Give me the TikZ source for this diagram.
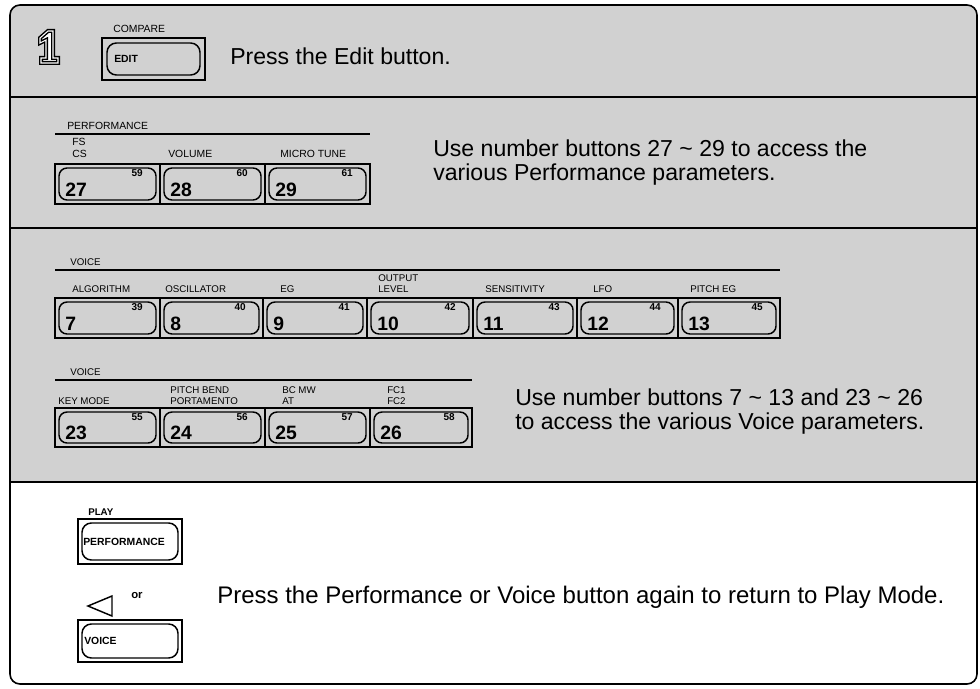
\documentclass[tikz,border=0pt]{standalone}
\usepackage{fontspec}
\setmainfont{Liberation Sans}
\begin{document}
\begin{tikzpicture}[x=0.75pt,y=-0.75pt,
  frameline/.style={line width=1.2pt,draw=black},
  cellline/.style={line width=1.1pt,draw=black},
  shadefill/.style={fill=black!18},
  big/.style={anchor=base west,inner sep=0pt,font=\fontsize{17.3}{17.5}\selectfont},
  bigtwo/.style={anchor=north west,inner sep=0pt,align=left,font=\fontsize{17.3}{17.5}\selectfont},
  lab/.style={anchor=base west,inner sep=0pt,font=\fontsize{7.8}{8}\selectfont},
  vlab/.style={anchor=base west,inner sep=0pt,font=\fontsize{7.3}{8}\selectfont},
  num/.style={anchor=base west,inner sep=0pt,font=\fontsize{14.5}{16}\bfseries\selectfont},
  supnum/.style={anchor=base east,inner sep=0pt,font=\fontsize{7.5}{8}\bfseries\selectfont},
  btntext/.style={anchor=west,inner sep=0pt,font=\fontsize{7.8}{9}\bfseries\selectfont}
]
\newcommand{\btncell}[7]{%
  \draw[cellline] (#2,#4) rectangle (#3,#5);
  \draw[cellline,rounded corners=6pt] (#2+4,#4+4) rectangle (#3-4,#5-4);
  \node[num] (#1n) at (#2+10,#5-8) {#6};
  \node[supnum] (#1s) at (#3-17,#4+12) {#7};
}
\useasboundingbox (0,0) rectangle (980,688);
% shaded background
\begin{scope}
  \clip[rounded corners=7.5pt] (10,5) rectangle (977,684);
  \fill[shadefill] (10,5) rectangle (977,482);
\end{scope}
\draw[frameline,rounded corners=7.5pt] (10,5) rectangle (977,684);
\draw[frameline] (10,97) -- (977,97);
\draw[frameline] (10,228) -- (977,228);
\draw[frameline] (10,482) -- (977,482);

% ---- section 1
\draw[line width=1.1pt,fill=white,double=white,double distance=0.8pt]
  (40,38) -- (48,31) -- (53,31) -- (53,58) -- (58,58) -- (58,63) -- (41,63)
  -- (41,58) -- (46,58) -- (46,40) -- (40,43) -- cycle;
\node[lab] (compare) at (113,33) {COMPARE};
\draw[cellline] (102,38) rectangle (205,80);
\draw[cellline,rounded corners=7pt] (107,43) rectangle (200,75);
\node[btntext] (edit) at (114,59) {EDIT};
\node[big] (t1) at (230,65) {Press the Edit button.};

% ---- section 2 : performance
\node[lab] (perf) at (67,130) {PERFORMANCE};
\draw[cellline] (55,134) -- (370,134);
\node[lab] (fs) at (72,146) {FS};
\node[lab] (cs) at (72,157) {CS};
\node[lab] (vol) at (168,157) {VOLUME};
\node[lab] (micro) at (280,157) {MICRO TUNE};
\btncell{p27}{55}{160}{164}{204}{27}{59}
\btncell{p28}{160}{265}{164}{204}{28}{60}
\btncell{p29}{265}{370}{164}{204}{29}{61}
\node[bigtwo] (t2) at (433,140) {Use number buttons 27 \textasciitilde{} 29 to access the\\various Performance parameters.};

% ---- section 3 : voice row 1
\node[vlab] (voice1) at (70,265) {VOICE};
\draw[cellline] (55,270) -- (780,270);
\node[vlab] (alg) at (72,292) {ALGORITHM};
\node[vlab] (osc) at (165,292) {OSCILLATOR};
\node[vlab] (eg) at (280,292) {EG};
\node[vlab] (outp) at (378,281) {OUTPUT};
\node[vlab] (lev) at (378,292) {LEVEL};
\node[vlab] (sens) at (485,292) {SENSITIVITY};
\node[vlab] (lfo) at (593,292) {LFO};
\node[vlab] (peg) at (690,292) {PITCH EG};
\btncell{v7}{55}{160}{298}{338}{7}{39}
\btncell{v8}{160}{263}{298}{338}{8}{40}
\btncell{v9}{263}{367}{298}{338}{9}{41}
\btncell{v10}{367}{473}{298}{338}{10}{42}
\btncell{v11}{473}{577}{298}{338}{11}{43}
\btncell{v12}{577}{678}{298}{338}{12}{44}
\btncell{v13}{678}{780}{298}{338}{13}{45}

% ---- voice row 2
\node[vlab] (voice2) at (70,375) {VOICE};
\draw[cellline] (55,380) -- (472,380);
\node[vlab] (key) at (58,404) {KEY MODE};
\node[vlab] (pb) at (170,393) {PITCH BEND};
\node[vlab] (port) at (170,404) {PORTAMENTO};
\node[vlab] (bc) at (282,393) {BC MW};
\node[vlab] (at) at (282,404) {AT};
\node[vlab] (fc1) at (387,393) {FC1};
\node[vlab] (fc2) at (387,404) {FC2};
\btncell{v23}{55}{160}{408}{447}{23}{55}
\btncell{v24}{160}{265}{408}{447}{24}{56}
\btncell{v25}{265}{370}{408}{447}{25}{57}
\btncell{v26}{370}{472}{408}{447}{26}{58}
\node[bigtwo] (t3) at (515,389) {Use number buttons 7 \textasciitilde{} 13 and 23 \textasciitilde{} 26\\to access the various Voice parameters.};

% ---- section 4
\node[vlab,font=\fontsize{7.3}{8}\bfseries\selectfont] (play) at (88,515) {PLAY};
\draw[cellline] (78,519) rectangle (182,564);
\draw[cellline,rounded corners=7pt] (82,523) rectangle (178,560);
\node[btntext] (perfbtn) at (83,542) {PERFORMANCE};
\node[anchor=base west,inner sep=0pt,font=\fontsize{8.5}{9}\bfseries\selectfont] (or) at (131,598) {or};
\draw[line width=1.1pt] (88,606) -- (112,596) -- (112,616) -- cycle;
\draw[cellline] (78,620) rectangle (182,662);
\draw[cellline,rounded corners=7pt] (82,624) rectangle (178,658);
\node[btntext] (voicebtn) at (84,641) {VOICE};
\node[big,font=\fontsize{18}{18}\selectfont] (t4) at (217,603) {Press the Performance or Voice button again to return to Play Mode.};
\end{tikzpicture}
\end{document}
